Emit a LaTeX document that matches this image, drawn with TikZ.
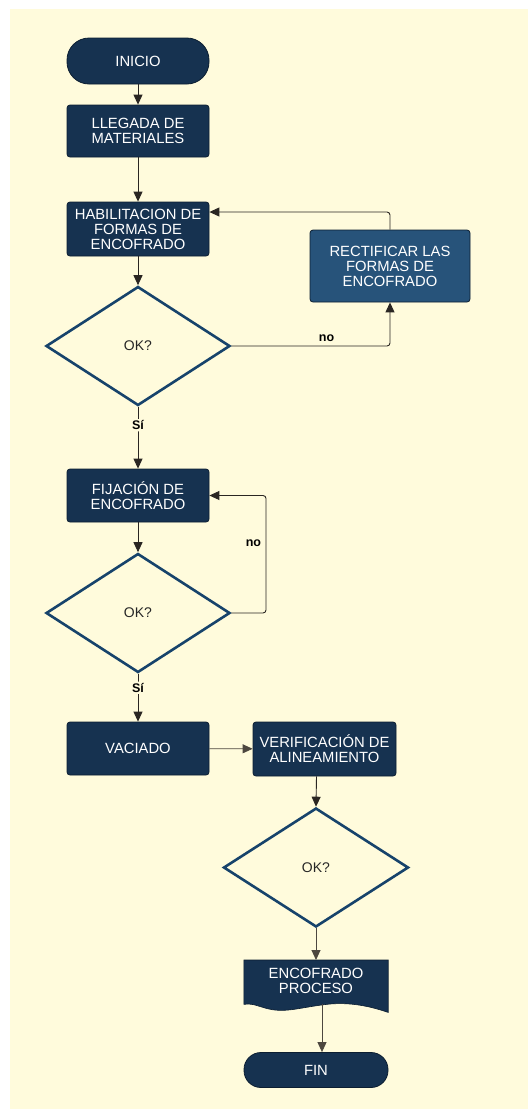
\documentclass[tikz,border=0pt]{standalone}
\usepackage{fontspec}
\setmainfont{Liberation Sans}
\usetikzlibrary{shapes.geometric,arrows.meta}
\definecolor{navy}{HTML}{163250}
\definecolor{navyedge}{HTML}{0C1E31}
\definecolor{steel}{HTML}{27537A}
\definecolor{diaedge}{HTML}{17436B}
\definecolor{cream}{HTML}{FFFBDC}
\definecolor{wire}{HTML}{2A2622}
\definecolor{wiresoft}{HTML}{4D473F}
\tikzset{
  boxtext/.style={text=white, font=\fontsize{14.8}{15}\selectfont, align=center, inner sep=0pt},
  procbox/.style={boxtext, rectangle, rounded corners=3pt, fill=navy, draw=navyedge, line width=0.8pt,
                  minimum width=142pt, minimum height=52pt},
  terminal/.style={boxtext, rectangle, rounded corners=22pt, fill=navy, draw=navyedge, line width=0.8pt,
                  minimum width=142pt, minimum height=46pt},
  decision/.style={diamond, draw=diaedge, line width=2.6pt, fill=cream, inner sep=0pt,
                  minimum width=184pt, minimum height=119pt, text=black!85,
                  font=\fontsize{14}{16}\selectfont},
  arr/.style={draw=wire, line width=0.9pt, rounded corners=3pt,
              -{Triangle[length=10pt,width=9pt]}},
  arrsoft/.style={arr, draw=wiresoft, -{Triangle[length=10pt,width=9pt,fill=wiresoft]}},
  branch/.style={font=\bfseries\fontsize{12.5}{14}\selectfont, text=black, fill=cream, inner sep=1.5pt},
}
\begin{document}
\begin{tikzpicture}[x=1pt,y=-1pt]
  % page and background panel
  \fill[white] (0,0) rectangle (528,1109);
  \fill[cream] (10,9) rectangle (528,1109);
  \useasboundingbox (0,0) rectangle (528,1109);

  % left column
  \node[terminal] (inicio) at (138,61) {INICIO};
  \node[procbox] (llegada) at (138,131) {LLEGADA DE\\MATERIALES};
  \node[procbox, minimum height=54pt] (habil) at (138,229) {HABILITACION DE\\FORMAS DE\\ENCOFRADO};
  \node[procbox, fill=steel, minimum width=160pt, minimum height=72pt] (rectif) at (390,266)
       {RECTIFICAR LAS\\FORMAS DE\\ENCOFRADO};
  \node[decision] (ok1) at (138,346) {OK?};
  \node[procbox, minimum height=53pt] (fijacion) at (138,495.5) {FIJACIÓN DE\\ENCOFRADO};
  \node[decision] (ok2) at (138,613) {OK?};
  \node[procbox, minimum height=53pt] (vaciado) at (138,748.5) {VACIADO};
  \node[procbox, minimum width=143pt, minimum height=54pt] (verif) at (324.5,749) {VERIFICACIÓN DE\\ALINEAMIENTO};
  \node[decision, minimum width=185pt] (ok3) at (316,867.5) {OK?};

  % document shape with a wavy lower edge
  \node[boxtext, minimum width=144pt, minimum height=44pt, anchor=north] (doc) at (316,960) {};
  \fill[navy, draw=navyedge, line width=0.6pt]
    (doc.north west) -- (doc.north east) -- ([yshift=-8pt]doc.south east)
    .. controls (375,1008) and (355,1002) .. (330,1004)
    .. controls (300,1007) and (285,1014) .. (265,1008)
    .. controls (255,1005) and (250,1003) .. (doc.south west) -- cycle;
  \node[boxtext] at ([yshift=1pt]doc.center) {ENCOFRADO\\PROCESO};

  \node[terminal, minimum width=144pt, minimum height=35pt, rounded corners=17pt] (fin) at (316,1070) {FIN};

  % connectors
  \coordinate (loop) at (266,560);
  \draw[arr] (inicio) -- (llegada);
  \draw[arr] (llegada) -- (habil);
  \draw[arr] (habil) -- (ok1);
  \draw[arr] (ok1.east) -| node[branch, pos=0.3, above=2pt, fill=none] {no} (rectif.south);
  \draw[arr] (rectif.north) |- ([yshift=17pt]habil.east);
  \draw[arr] (ok1.south) -- node[branch, pos=0.3] {Sí} (fijacion.north);
  \draw[arr] (fijacion) -- (ok2);
  \draw[arr] (ok2.east) -- (ok2.east -| loop)
        -- node[branch, pos=0.59, left=3pt, fill=none] {no} (loop |- fijacion.east) -- (fijacion.east);
  \draw[arr] (ok2.south) -- node[branch, pos=0.29] {Sí} (vaciado.north);
  \draw[arrsoft] (vaciado) -- (verif);
  \draw[arr] ([xshift=-8pt]verif.south) -- (ok3.north);
  \draw[arrsoft] (ok3.south) -- (doc.north);
  \draw[arrsoft] ([xshift=6pt]doc.south) -- ([xshift=6pt]fin.north);
\end{tikzpicture}
\end{document}
